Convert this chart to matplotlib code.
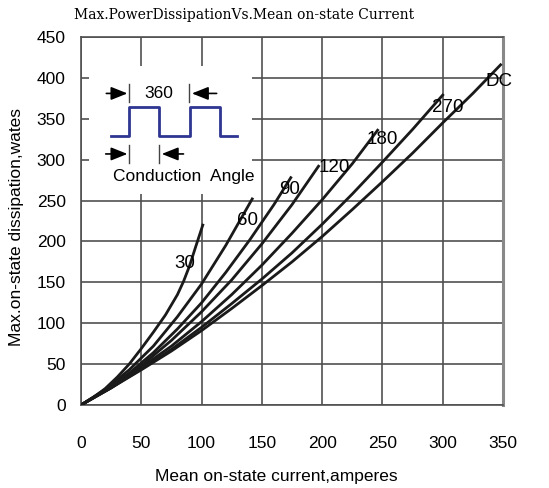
# Max. power dissipation vs. mean on-state current
import matplotlib
matplotlib.use("Agg")
import matplotlib.pyplot as plt

plt.rcParams['font.family'] = ['Liberation Sans', 'DejaVu Sans']

# curves (current in A, power in W)
x_30 = [0, 10, 20, 30, 40, 50, 60, 70, 80, 85, 90, 95, 101]
y_30 = [0, 9, 20, 34, 50, 69, 89, 110, 135, 151, 170, 193, 220]
x_60 = [0, 20, 40, 60, 80, 100, 120, 142]
y_60 = [0, 19, 43, 72, 108, 148, 195, 252]
x_90 = [0, 20, 40, 60, 80, 100, 120, 140, 160, 174]
y_90 = [0, 18, 39, 64, 93, 125, 162, 202, 245, 278]
x_120 = [0, 25, 50, 75, 100, 125, 150, 175, 197]
y_120 = [0, 22, 48, 79, 114, 153, 197, 245, 292]
x_180 = [0, 25, 50, 75, 100, 125, 150, 175, 200, 225, 246]
y_180 = [0, 21, 46, 72, 102, 135, 171, 210, 251, 295, 336]
x_270 = [0, 25, 50, 75, 100, 125, 150, 175, 200, 225, 250, 275, 300]
y_270 = [0, 21, 44, 68, 95, 124, 154, 186, 221, 258, 297, 337, 379]
x_dc = [0, 25, 50, 75, 100, 125, 150, 175, 200, 225, 250, 275, 300, 325, 348]
y_dc = [0, 21, 43, 66, 91, 118, 146, 175, 206, 239, 273, 308, 345, 381, 416]

curve_names = ['30', '60', '90', '120', '180', '270', 'DC']
label_pos = [(86, 173), (138, 226), (173, 263), (210, 290),
             (250, 325), (304, 364), (347, 395)]

x_ticks = [0, 50, 100, 150, 200, 250, 300, 350]
y_ticks = [0, 50, 100, 150, 200, 250, 300, 350, 400, 450]

fig = plt.figure(figsize=(5.49, 4.88), dpi=100)
ax = fig.add_axes([81 / 549, 1 - 405 / 488, 422 / 549, 368 / 488])

curves = [(x_30, y_30), (x_60, y_60), (x_90, y_90), (x_120, y_120),
          (x_180, y_180), (x_270, y_270), (x_dc, y_dc)]
for (xs, ys), name, (lx, ly) in zip(curves, curve_names, label_pos):
    ax.plot(xs, ys, color='#1a1a1a', lw=2.0, zorder=3,
            solid_joinstyle='round')
    ax.text(lx, ly, name, fontsize=13.5, ha='center', va='center', zorder=4)

ax.set_xlim(0, 350)
ax.set_ylim(0, 450)
ax.set_xticks(x_ticks)
ax.set_yticks(y_ticks)
ax.grid(True, color='#505050', lw=1.2)
ax.set_axisbelow(True)
ax.tick_params(length=0, labelsize=12.5)
ax.tick_params(axis='x', pad=22)
ax.tick_params(axis='y', pad=11)
for side in ['left', 'bottom', 'top']:
    ax.spines[side].set_color('#505050')
    ax.spines[side].set_linewidth(1.2)
ax.spines['right'].set_color('#888888')
ax.spines['right'].set_linewidth(2.2)

# inset: conduction angle sketch
ax.add_patch(plt.Rectangle((7, 258), 135, 156, facecolor='white',
                           edgecolor='none', zorder=2))
wave_x = [25, 40, 40, 65, 65, 90, 90, 115, 115, 129]
wave_y = [329, 329, 365, 365, 329, 329, 365, 365, 329, 329]
ax.plot(wave_x, wave_y, color='#2e3592', lw=2.0, zorder=3)
ax.text(64.8, 381, '360', fontsize=12.5, ha='center', va='center', zorder=4)
ax.text(85, 279, 'Conduction  Angle', fontsize=12.5, ha='center',
        va='center', zorder=4)
arrow = dict(arrowstyle='-|>,head_length=0.5,head_width=0.2',
             color='black', lw=1.2, mutation_scale=20, shrinkA=0, shrinkB=0)
for (x0, x1, y) in [(21, 38.5, 381), (112.5, 92, 381),
                    (20.5, 38.5, 307), (85, 67, 307)]:
    ax.annotate('', xy=(x1, y), xytext=(x0, y), arrowprops=arrow, zorder=4)
for (xv, y0, y1) in [(40, 371, 392), (89.8, 371, 392),
                     (40, 296, 318), (64.8, 296, 318)]:
    ax.plot([xv, xv], [y0, y1], color='#444444', lw=1.0, zorder=4)

fig.text(244 / 549, 1 - 15 / 488,
         'Max.PowerDissipationVs.Mean on-state Current',
         family='DejaVu Serif', fontsize=10, ha='center', va='center')
fig.text(276 / 549, 1 - 476 / 488, 'Mean on-state current,amperes',
         fontsize=12.5, ha='center', va='center')
fig.text(17 / 549, 1 - 227 / 488, 'Max.on-state dissipation,wates',
         fontsize=12.5, ha='center', va='center', rotation=90)

fig.savefig('out.png', dpi=100)
